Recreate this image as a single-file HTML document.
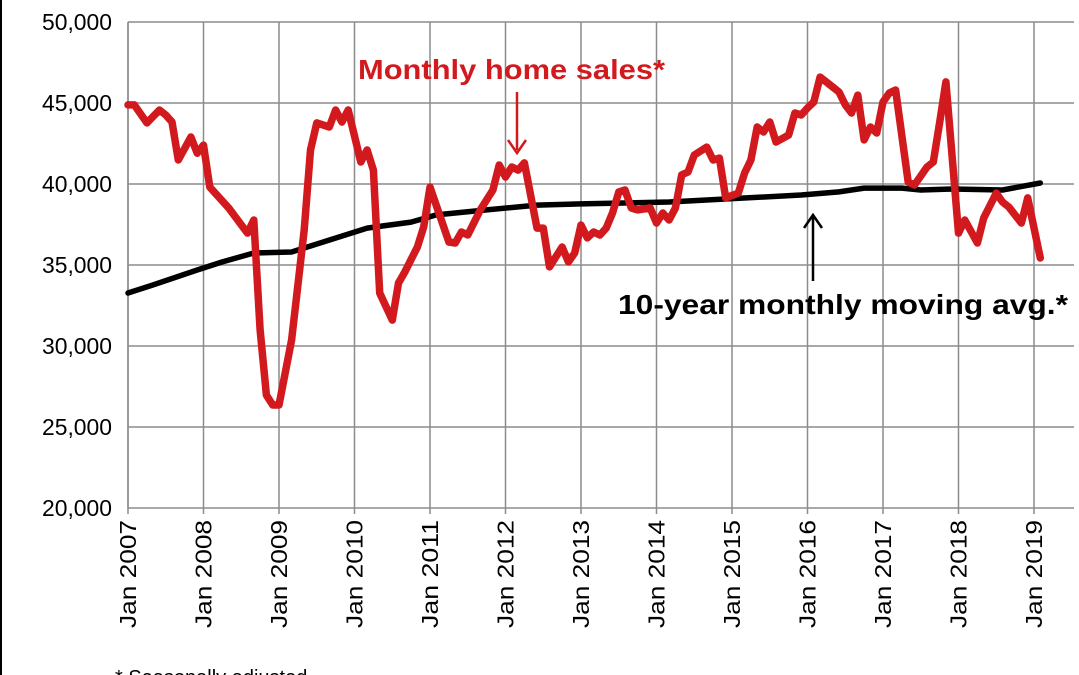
<!DOCTYPE html>
<html><head><meta charset="utf-8">
<style>
html,body{margin:0;padding:0;background:#fff;}
body{width:1079px;height:675px;overflow:hidden;position:relative;font-family:"Liberation Sans",sans-serif;}
#frame{position:absolute;left:0;top:0;width:1079px;height:675px;box-sizing:border-box;border-left:2px solid #000;}
</style></head><body>
<div id="frame"></div>
<svg id="chart" width="1079" height="675" style="position:absolute;left:0;top:0">
</svg>
<script>
const yTicks = [20000,25000,30000,35000,40000,45000,50000];
const yearLabels = ["Jan 2007","Jan 2008","Jan 2009","Jan 2010","Jan 2011","Jan 2012","Jan 2013","Jan 2014","Jan 2015","Jan 2016","Jan 2017","Jan 2018","Jan 2019"];
const salesMonths = [0,1,3,5,6,7,8,10,11,12,13,16,19,20,21,22,23,24,26,28,29,30,32,33,34,35,37,38,39,40,42,43,44,46,47,48,51,52,53,54,56,58,59,60,61,62,63,65,66,67,69,70,71,72,73,74,75,76,77,78,79,80,81,83,84,85,86,87,88,89,90,92,93,94,95,97,98,99,100,101,102,103,105,106,107,108,109,110,112,113,114,115,116,117,118,119,120,121,122,124,125,127,128,129,130,132,133,135,136,138,139,140,142,143,145];
const salesValues = [44880,44880,43770,44570,44260,43830,41480,42900,41900,42400,39810,38520,36970,37780,31000,26970,26360,26360,30370,37160,42100,43770,43520,44570,43830,44570,41360,42100,40860,33270,31600,33890,34570,36110,37350,39810,36420,36360,37040,36850,38400,39630,41170,40430,41050,40860,41300,37280,37280,34880,36110,35190,35740,37470,36670,37040,36850,37280,38210,39510,39630,38520,38400,38520,37590,38210,37780,38520,40560,40740,41790,42280,41480,41600,39140,39440,40680,41480,43520,43210,43830,42590,43020,44380,44260,44690,45060,46600,45990,45680,44880,44380,45490,42720,43520,43150,45060,45620,45800,40120,39940,41050,41360,43770,46300,36970,37780,36360,37900,39440,38890,38580,37590,39140,35430];
const avgMonths = [0,4,11,15,20,26,28,38,45,49,57,65,72,86,107,113,117,123,126,131,139,145];
const avgValues = [33270,33770,34690,35190,35740,35800,36050,37280,37650,38090,38400,38700,38770,38890,39320,39510,39750,39750,39630,39690,39630,40060];

const NS="http://www.w3.org/2000/svg";
const svg=document.getElementById('chart');
const X0=128, XYEAR=75.5, Y0=508, Y1=22;
const xm = m => X0 + m*XYEAR/12;
const yv = v => Y0 - (v-20000)/30000*(Y0-Y1);
function mk(t,a,p){const e=document.createElementNS(NS,t);for(const k in a)e.setAttribute(k,a[k]);(p||svg).appendChild(e);return e;}

yTicks.forEach(v=>{
  const l=mk('line',{x1:X0,x2:X0+12*XYEAR+40,y1:yv(v),y2:yv(v),stroke:'#8c8c8c','stroke-width':1.5});
  
  
  const t=mk('text',{x:112,y:yv(v)+8,'text-anchor':'end','font-size':23,fill:'#000',textLength:70,lengthAdjust:'spacingAndGlyphs'});
  t.textContent=v.toLocaleString('en-US');
  
  
});
yearLabels.forEach((lab,i)=>{
  const x=xm(i*12);
  const l=mk('line',{x1:x,x2:x,y1:Y1,y2:Y0+6,stroke:'#8c8c8c','stroke-width':1.5});
  
  
  const t=mk('text',{x:0,y:0,'text-anchor':'end','font-size':23,fill:'#000',textLength:108,lengthAdjust:'spacingAndGlyphs',transform:`translate(${x+8},${Y0+12}) rotate(-90)`});
  t.textContent=lab;
  
  
});
const ax=mk('line',{x1:X0,x2:X0,y1:Y1,y2:Y0,stroke:'#8c8c8c','stroke-width':1.5});



function pts(ms,vs){return ms.map((m,i)=>xm(m).toFixed(1)+','+yv(vs[i]).toFixed(1)).join(' ');}
const avg=mk('polyline',{points:pts(avgMonths,avgValues),fill:'none',stroke:'#000','stroke-width':5.5,'stroke-linejoin':'round','stroke-linecap':'round'});


const sales=mk('polyline',{points:pts(salesMonths,salesValues),fill:'none',stroke:'#d2191e','stroke-width':7.5,'stroke-linejoin':'round','stroke-linecap':'round'});



const t1=mk('text',{x:358,y:79,'font-size':28,'font-weight':'bold',fill:'#d2191e',textLength:307,lengthAdjust:'spacingAndGlyphs'});
t1.textContent='Monthly home sales*';


const a1=mk('line',{x1:517,x2:517,y1:92,y2:150,stroke:'#d2191e','stroke-width':2.5});


const h1=mk('polyline',{points:'508,140 517,153 526,140',fill:'none',stroke:'#d2191e','stroke-width':2.5});


const t2=mk('text',{x:618,y:314,'font-size':28,'font-weight':'bold',fill:'#000',textLength:450,lengthAdjust:'spacingAndGlyphs'});
t2.textContent='10-year monthly moving avg.*';


const a2=mk('line',{x1:813,x2:813,y1:281,y2:216,stroke:'#000','stroke-width':2.5});


const h2=mk('polyline',{points:'804,228 813,215 822,228',fill:'none',stroke:'#000','stroke-width':2.5});


const fn=mk('text',{x:115,y:684,'font-size':20,fill:'#000'});
fn.textContent='* Seasonally adjusted';


</script>
</body></html>
